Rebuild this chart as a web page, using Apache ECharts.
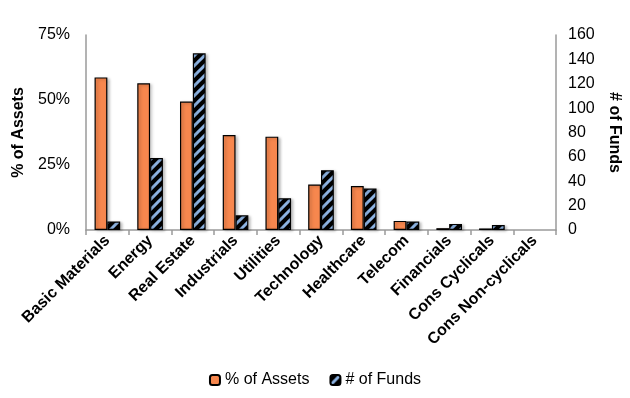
<!DOCTYPE html>
<html>
<head>
<meta charset="utf-8">
<script src="https://cdn.jsdelivr.net/npm/echarts@6/dist/echarts.min.js"></script>
<style>
  html, body { margin: 0; padding: 0; background: #fff; }
  #chart { width: 630px; height: 398px; }
</style>
</head>
<body>
<div id="chart"></div>
<script>
const categories = ['Basic Materials', 'Energy', 'Real Estate', 'Industrials', 'Utilities',
  'Technology', 'Healthcare', 'Telecom', 'Financials', 'Cons Cyclicals', 'Cons Non-cyclicals']
const assetsPct = [58.7, 56.4, 49.4, 36.5, 35.9, 17.5, 16.9, 3.5, 0.7, 0.6, 0]
const fundsCount = [7, 59, 145, 12, 26, 49, 34, 7, 5, 4, 0]
const leftTicks = [0, 25, 50, 75]
const rightTicks = [0, 20, 40, 60, 80, 100, 120, 140, 160]

// black bar with light blue diagonal stripes
function stripePattern() {
  const c = document.createElement('canvas')
  c.width = 10
  c.height = 10
  const ctx = c.getContext('2d')
  ctx.fillStyle = '#000'
  ctx.fillRect(0, 0, 10, 10)
  ctx.strokeStyle = '#8db3e2'
  ctx.lineWidth = 3
  ctx.beginPath()
  ctx.moveTo(0, 10); ctx.lineTo(10, 0)
  ctx.moveTo(-5, 5); ctx.lineTo(5, -5)
  ctx.moveTo(5, 15); ctx.lineTo(15, 5)
  ctx.stroke()
  return c
}

const chart = echarts.init(document.getElementById('chart'))
const font = 'Liberation Sans, Arial, sans-serif'

// zero values get no outline, like the reference
const barItem = (v) => v === 0 ? { value: v, itemStyle: { borderWidth: 0, shadowBlur: 0 } } : v

chart.setOption({
  animation: false,
  textStyle: { fontFamily: font },
  grid: { left: 86, right: 70, top: 35, bottom: 168 },
  legend: {
    bottom: 5,
    left: 'center',
    itemWidth: 10,
    itemHeight: 10,
    itemGap: 20,
    textStyle: { fontSize: 16, color: '#000', fontFamily: font },
    data: ['% of Assets', '# of Funds']
  },
  xAxis: {
    type: 'category',
    data: categories,
    axisLine: { lineStyle: { color: '#9a9a9a', width: 1.5 } },
    axisTick: { show: true, length: 5, lineStyle: { color: '#9a9a9a', width: 1.5 } },
    axisLabel: {
      rotate: 45,
      interval: 0,
      margin: 8,
      fontSize: 16,
      fontWeight: 'bold',
      color: '#000',
      fontFamily: font
    }
  },
  yAxis: [
    {
      type: 'value',
      min: leftTicks[0],
      max: leftTicks[leftTicks.length - 1],
      interval: 25,
      name: '% of Assets',
      nameLocation: 'middle',
      nameRotate: 90,
      nameGap: 52,
      nameTextStyle: { fontSize: 16, fontWeight: 'bold', color: '#000', fontFamily: font },
      axisLine: { show: true, lineStyle: { color: '#9a9a9a', width: 1.5 } },
      axisTick: { show: false },
      splitLine: { show: false },
      axisLabel: { formatter: '{value}%', fontSize: 16, color: '#000', margin: 16, fontFamily: font }
    },
    {
      type: 'value',
      min: rightTicks[0],
      max: rightTicks[rightTicks.length - 1],
      interval: 20,
      name: '# of Funds',
      nameLocation: 'middle',
      nameRotate: -90,
      nameGap: 50,
      nameTextStyle: { fontSize: 16, fontWeight: 'bold', color: '#000', fontFamily: font },
      axisLine: { show: true, lineStyle: { color: '#9a9a9a', width: 1.5 } },
      axisTick: { show: false },
      splitLine: { show: false },
      axisLabel: { fontSize: 16, color: '#000', margin: 12, fontFamily: font }
    }
  ],
  series: [
    {
      name: '% of Assets',
      type: 'bar',
      yAxisIndex: 0,
      barWidth: '30%',
      barGap: '0%',
      data: assetsPct.map(barItem),
      itemStyle: {
        color: '#f7874e',
        borderColor: '#000',
        borderWidth: 1.2,
        shadowBlur: 3,
        shadowColor: 'rgba(0,0,0,0.25)',
        shadowOffsetX: 2,
        shadowOffsetY: 1
      }
    },
    {
      name: '# of Funds',
      type: 'bar',
      yAxisIndex: 1,
      barWidth: '30%',
      barGap: '0%',
      data: fundsCount.map(barItem),
      itemStyle: {
        color: { image: stripePattern(), repeat: 'repeat' },
        borderColor: '#000',
        borderWidth: 1.2,
        shadowBlur: 3,
        shadowColor: 'rgba(0,0,0,0.25)',
        shadowOffsetX: 2,
        shadowOffsetY: 1
      }
    }
  ]
})
</script>
</body>
</html>
